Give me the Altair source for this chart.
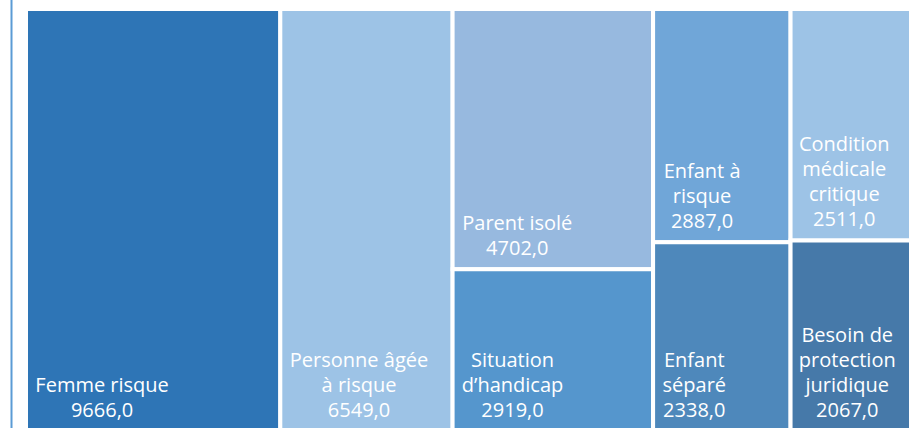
import altair as alt
import pandas as pd

# ---- data ----
labels = ["Femme risque", "Personne âgée à risque", "Parent isolé", "Situation d’handicap",
          "Enfant à risque", "Enfant séparé", "Condition médicale critique",
          "Besoin de protection juridique"]
values = [9666, 6549, 4702, 2919, 2887, 2338, 2511, 2067]
columns = [1, 2, 3, 3, 4, 4, 5, 5]
label_lines = [["Femme risque"], ["Personne âgée", "à risque"], ["Parent isolé"],
               ["Situation", "d’handicap"], ["Enfant à", "risque"], ["Enfant", "séparé"],
               ["Condition", "médicale", "critique"], ["Besoin de", "protection", "juridique"]]

# ---- style ----
colors = ["#2E75B6", "#9DC3E6", "#97B9DF", "#5596CD", "#70A6D8", "#4E88BB", "#9DC3E6", "#4679A9"]
FONT = "Open Sans"
FS = 20
LH = 25
W, H = 885, 419
YR = 422  # rectangles continue a little below the window

def text_width(s):
    narrow = set("iljI’',.| ")
    semi = set("tfr")
    wide = set("mwMW")
    w = 0.0
    for ch in s:
        if ch in narrow:
            w += 0.26
        elif ch in semi:
            w += 0.36
        elif ch in wide:
            w += 0.88
        elif ch.isdigit():
            w += 0.57
        elif ch.isupper():
            w += 0.64
        elif ch in "sc":
            w += 0.48
        else:
            w += 0.57
    return w * FS

# ---- layout (column slice-and-dice treemap) ----
df = pd.DataFrame({"label": labels, "value": values, "col": columns})
total = df["value"].sum()
col_tot = df.groupby("col")["value"].sum()
col_start = col_tot.cumsum() - col_tot
df["x0"] = df["col"].map(col_start)
df["x1"] = df["x0"] + df["col"].map(col_tot)
df["y1v"] = df.groupby("col")["value"].cumsum()
df["y0"] = (df["y1v"] - df["value"]) / df["col"].map(col_tot)
df["y1"] = df["y1v"] / df["col"].map(col_tot)
df["valtxt"] = [f"{v:.1f}".replace(".", ",") for v in values]
df["lines"] = [ll + [vt] for ll, vt in zip(label_lines, df["valtxt"])]
blockw = [max(text_width(s) for s in ll) for ll in df["lines"]]
df["xt"] = df["x0"] + [(10 + bw / 2) * total / W for bw in blockw]
# first-line baseline so that the last line sits 14px above the rectangle bottom
df["yt"] = df["y1"] - [(14 + (len(ll) - 1) * LH) / YR for ll in df["lines"]]

xs = alt.Scale(domain=[0, total], range=[0, W], nice=False, zero=False)
ys = alt.Scale(domain=[0, 1], range=[0, YR], nice=False, zero=False)

base = alt.Chart(df)
rects = base.mark_rect(stroke="white", strokeWidth=4).encode(
    x=alt.X("x0:Q", scale=xs, axis=None),
    x2="x1:Q",
    y=alt.Y("y0:Q", scale=ys, axis=None),
    y2="y1:Q",
    color=alt.Color("label:N", scale=alt.Scale(domain=labels, range=colors), legend=None),
    tooltip=["label:N", "value:Q"],
)
texts = base.mark_text(color="white", font=FONT, fontSize=FS, lineHeight=LH,
                       align="center", baseline="alphabetic").encode(
    x=alt.X("xt:Q", scale=xs, axis=None),
    y=alt.Y("yt:Q", scale=ys, axis=None),
    text="lines",
)
edge = alt.Chart(pd.DataFrame({"a": [0]})).mark_rule(color="#5B9BD5", strokeWidth=2).encode(
    x=alt.value(-14.5), y=alt.value(-9), y2=alt.value(H)
)

chart = alt.layer(edge, rects, texts).properties(
    width=W, height=H,
    autosize=alt.AutoSizeParams(type="none"),
    padding={"left": 26, "top": 9, "right": 8, "bottom": 0},
).configure_view(stroke=None)

chart.save("out.html", embed_options={"renderer": "svg", "actions": False})
